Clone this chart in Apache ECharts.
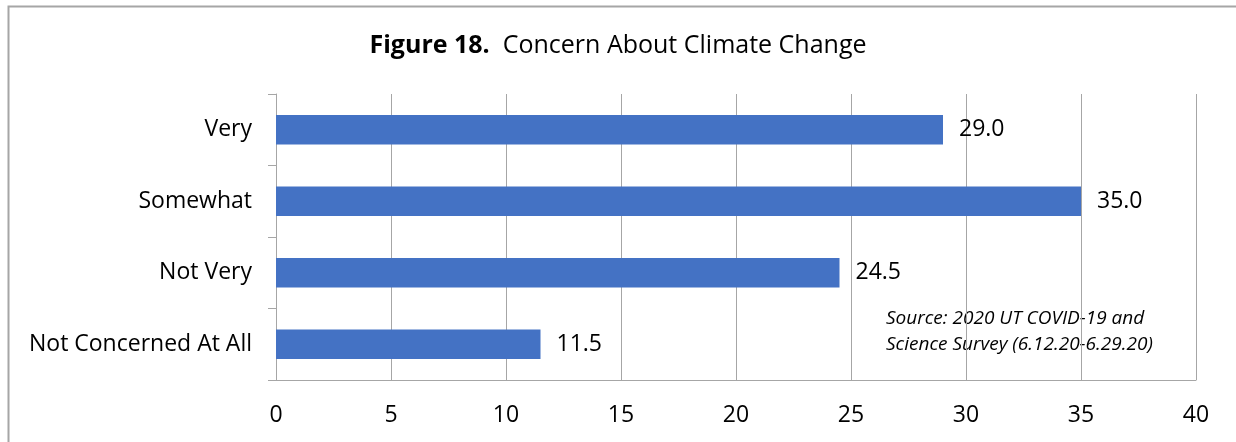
<!DOCTYPE html>
<html>
<head>
<meta charset="utf-8">
<script src="https://cdn.jsdelivr.net/npm/echarts@6/dist/echarts.min.js"></script>
<style>
  html, body { margin: 0; padding: 0; background: #fff; }
  #chart { width: 1236px; height: 442px; }
</style>
</head>
<body>
<div id="chart"></div>
<script>
// Survey responses: level of concern about climate change (percent)
const categories = ['Very', 'Somewhat', 'Not Very', 'Not Concerned At All'];
const values = [29.0, 35.0, 24.5, 11.5];
const xTicks = { min: 0, max: 40, interval: 5 };
const sourceLines = ['Source: 2020 UT COVID-19 and', 'Science Survey (6.12.20-6.29.20)'];

const FONT = '"Open Sans", "Noto Sans", sans-serif';
const GRID_COLOR = '#A6A6A6';

const chart = echarts.init(document.getElementById('chart'), null, { renderer: 'canvas' });

chart.setOption({
  backgroundColor: '#ffffff',
  animation: false,
  textStyle: { fontFamily: FONT },
  title: {
    text: '{b|Figure 18.}  Concern About Climate Change',
    left: 'center',
    top: 28,
    textStyle: {
      fontFamily: FONT,
      fontSize: 25,
      fontWeight: 'normal',
      color: '#000',
      rich: {
        b: { fontFamily: FONT, fontSize: 25, fontWeight: 'bold', color: '#000' }
      }
    }
  },
  grid: { left: 276, right: 40, top: 94, bottom: 62 },
  xAxis: {
    type: 'value',
    min: xTicks.min,
    max: xTicks.max,
    interval: xTicks.interval,
    axisLine: { show: true, lineStyle: { color: GRID_COLOR, width: 1 } },
    axisTick: { show: false },
    splitLine: { show: true, lineStyle: { color: GRID_COLOR, width: 1 } },
    axisLabel: { color: '#000', fontSize: 23, fontFamily: FONT, margin: 24 }
  },
  yAxis: {
    type: 'category',
    data: categories,
    inverse: true,
    axisLine: { show: true, lineStyle: { color: GRID_COLOR, width: 1 } },
    axisTick: { show: true, length: 8, alignWithLabel: false, lineStyle: { color: GRID_COLOR } },
    axisLabel: { color: '#000', fontSize: 23, fontFamily: FONT, margin: 24 }
  },
  series: [{
    type: 'bar',
    data: values,
    barWidth: '41%',
    itemStyle: { color: '#4472C4' },
    label: {
      show: true,
      position: 'right',
      distance: 16,
      color: '#000',
      fontSize: 23,
      fontFamily: FONT,
      formatter: p => p.value.toFixed(1)
    }
  }],
  graphic: [
    {
      type: 'rect',
      left: 6, top: 4,
      shape: { width: 1260, height: 460 },
      style: { fill: 'none', stroke: '#A6A6A6', lineWidth: 2 },
      silent: true
    },
    {
      type: 'text',
      left: 886, top: 306,
      style: {
        text: sourceLines.join('\n'),
        fontFamily: FONT,
        fontStyle: 'italic',
        fontSize: 19,
        lineHeight: 26,
        fill: '#000'
      }
    }
  ]
});
</script>
</body>
</html>
